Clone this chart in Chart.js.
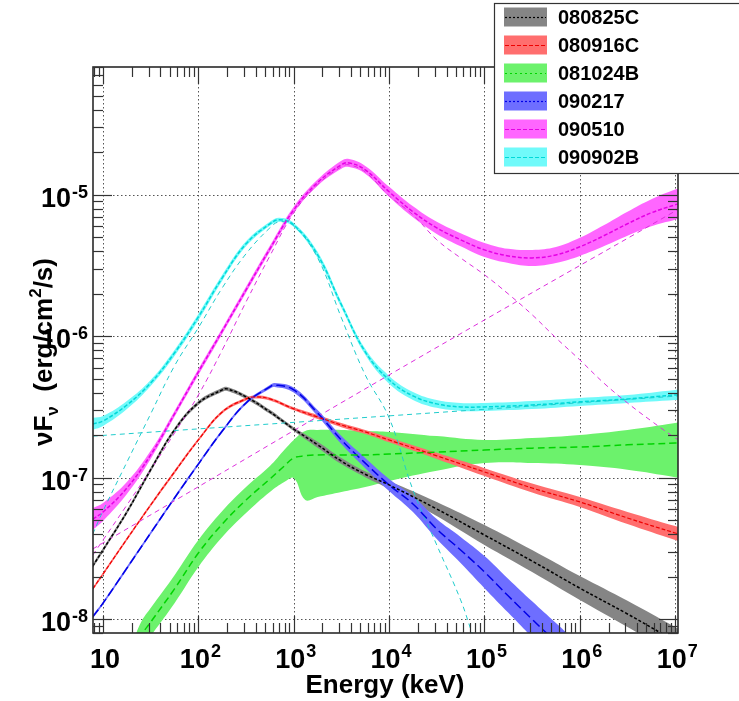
<!DOCTYPE html>
<html>
<head>
<meta charset="utf-8">
<title>GRB spectra</title>
<script src="https://cdn.jsdelivr.net/npm/chart.js@4.4.1/dist/chart.umd.min.js"></script>
<style>
html,body{margin:0;padding:0;background:#ffffff;overflow:hidden;}
canvas{display:block;}
</style>
</head>
<body>
<canvas id="chart" width="739" height="701"></canvas>
<script>
// ---------------- labels ----------------
const GRB_NAMES = ['080825C', '080916C', '081024B', '090217', '090510', '090902B'];
const X_TICK_EXPONENTS = [1, 2, 3, 4, 5, 6, 7];
const Y_TICK_EXPONENTS = [-8, -7, -6, -5];
const X_TITLE = 'Energy (keV)';
const X_MIN = 7.85, X_MAX = 1.07e7, Y_MIN = 8.0e-9, Y_MAX = 8.0e-5;

// ---------------- 080825C (black) ----------------
const E_080825C = [7.8, 10, 17.8, 31.6, 56.2, 100, 178, 200, 316, 562, 1000, 1780, 3160, 5620, 1e4, 3.16e4, 1e5, 3.16e5, 1e6, 3.16e6, 1e7, 1.1e7];
const F_080825C = [2.38e-8, 3.09e-8, 5.73e-8, 1.14e-7, 2.18e-7, 3.38e-7, 4.18e-7, 4.25e-7, 3.73e-7, 2.92e-7, 2.21e-7, 1.71e-7, 1.31e-7, 1.06e-7, 8.90e-8, 6.02e-8, 3.94e-8, 2.58e-8, 1.66e-8, 1.09e-8, 7.01e-9, 6.79e-9];
const HI_080825C = [2.46e-8, 3.19e-8, 5.92e-8, 1.18e-7, 2.25e-7, 3.49e-7, 4.32e-7, 4.39e-7, 3.85e-7, 3.02e-7, 2.28e-7, 1.80e-7, 1.38e-7, 1.11e-7, 9.50e-8, 6.75e-8, 4.64e-8, 3.09e-8, 2.02e-8, 1.35e-8, 8.80e-9, 8.53e-9];
const LO_080825C = [2.30e-8, 2.99e-8, 5.55e-8, 1.10e-7, 2.11e-7, 3.27e-7, 4.05e-7, 4.11e-7, 3.61e-7, 2.83e-7, 2.14e-7, 1.63e-7, 1.25e-7, 1.01e-7, 8.34e-8, 5.37e-8, 3.35e-8, 2.16e-8, 1.37e-8, 8.82e-9, 5.58e-9, 5.41e-9];

// ---------------- 080916C (red) ----------------
const E_080916C = [7.8, 10, 17.8, 31.6, 56.2, 100, 178, 316, 400, 562, 1000, 1780, 3160, 5620, 1e4, 3.16e4, 1e5, 3.16e5, 1e6, 3.16e6, 1e7, 1.1e7];
const F_080916C = [1.64e-8, 2.09e-8, 3.69e-8, 6.42e-8, 1.10e-7, 1.85e-7, 2.92e-7, 3.61e-7, 3.73e-7, 3.61e-7, 3.07e-7, 2.69e-7, 2.36e-7, 2.11e-7, 1.85e-7, 1.43e-7, 1.10e-7, 8.47e-8, 6.75e-8, 5.20e-8, 4.07e-8, 4.00e-8];
const HI_080916C = [1.68e-8, 2.14e-8, 3.78e-8, 6.58e-8, 1.13e-7, 1.90e-7, 2.99e-7, 3.70e-7, 3.82e-7, 3.70e-7, 3.15e-7, 2.78e-7, 2.44e-7, 2.18e-7, 1.93e-7, 1.50e-7, 1.17e-7, 9.11e-8, 7.32e-8, 5.74e-8, 4.56e-8, 4.48e-8];
const LO_080916C = [1.60e-8, 2.04e-8, 3.60e-8, 6.27e-8, 1.07e-7, 1.81e-7, 2.85e-7, 3.52e-7, 3.64e-7, 3.52e-7, 3.00e-7, 2.60e-7, 2.28e-7, 2.04e-7, 1.78e-7, 1.36e-7, 1.03e-7, 7.87e-8, 6.22e-8, 4.71e-8, 3.63e-8, 3.57e-8];

// ---------------- 081024B (green) ----------------
const E_081024B = [20, 25.1, 31.6, 56.2, 100, 178, 316, 562, 794, 1000, 1320, 1780, 3160, 5620, 1e4, 3.16e4, 1e5, 3.16e5, 1e6, 3.16e6, 1e7, 1.1e7];
const F_081024B = [5.15e-9, 7.61e-9, 9.55e-9, 1.64e-8, 2.94e-8, 4.71e-8, 6.97e-8, 9.80e-8, 1.21e-7, 1.38e-7, 1.43e-7, 1.45e-7, 1.45e-7, 1.45e-7, 1.47e-7, 1.52e-7, 1.57e-7, 1.62e-7, 1.65e-7, 1.71e-7, 1.76e-7, 1.76e-7];
const HI_081024B = [6.57e-9, 9.55e-9, 1.20e-8, 2.05e-8, 3.63e-8, 5.83e-8, 8.61e-8, 1.21e-7, 1.57e-7, 1.85e-7, 2.14e-7, 2.18e-7, 2.18e-7, 2.14e-7, 2.11e-7, 1.97e-7, 1.85e-7, 1.91e-7, 2.01e-7, 2.18e-7, 2.44e-7, 2.48e-7];
const LO_081024B = [4.03e-9, 6.06e-9, 7.61e-9, 1.30e-8, 2.34e-8, 3.81e-8, 5.64e-8, 7.94e-8, 9.34e-8, 9.97e-8, 6.97e-8, 7.31e-8, 7.94e-8, 8.61e-8, 9.49e-8, 1.12e-7, 1.27e-7, 1.27e-7, 1.23e-7, 1.14e-7, 1.01e-7, 9.97e-8];

// ---------------- 090217 (blue) ----------------
const E_090217 = [7.8, 10, 17.8, 31.6, 56.2, 100, 178, 316, 562, 631, 1000, 1780, 3160, 5620, 1e4, 1.78e4, 3.16e4, 5.62e4, 1e5, 1.78e5, 3.16e5, 5.62e5, 1e6];
const F_090217 = [1.04e-8, 1.30e-8, 2.30e-8, 4.07e-8, 7.20e-8, 1.25e-7, 2.14e-7, 3.38e-7, 4.39e-7, 4.53e-7, 4.18e-7, 2.87e-7, 1.85e-7, 1.27e-7, 8.90e-8, 6.53e-8, 4.34e-8, 3.09e-8, 2.16e-8, 1.46e-8, 1.00e-8, 6.90e-9, 4.74e-9];
const HI_090217 = [1.07e-8, 1.33e-8, 2.36e-8, 4.17e-8, 7.38e-8, 1.28e-7, 2.19e-7, 3.46e-7, 4.53e-7, 4.68e-7, 4.35e-7, 3.01e-7, 1.97e-7, 1.38e-7, 9.82e-8, 7.44e-8, 5.11e-8, 3.82e-8, 2.80e-8, 1.93e-8, 1.34e-8, 9.40e-9, 6.56e-9];
const LO_090217 = [1.01e-8, 1.27e-8, 2.24e-8, 3.97e-8, 7.03e-8, 1.22e-7, 2.09e-7, 3.30e-7, 4.25e-7, 4.39e-7, 4.01e-7, 2.73e-7, 1.73e-7, 1.17e-7, 8.07e-8, 5.73e-8, 3.69e-8, 2.50e-8, 1.66e-8, 1.11e-8, 7.46e-9, 5.06e-9, 3.42e-9];

// ---------------- 090510 (magenta) ----------------
const E_090510 = [7.8, 10, 17.8, 31.6, 56.2, 100, 178, 316, 562, 1000, 1780, 3160, 3800, 5620, 1e4, 1.78e4, 3.16e4, 5.62e4, 1e5, 1.78e5, 3.16e5, 5.62e5, 1e6, 1.78e6, 3.16e6, 5.62e6, 1e7, 1.1e7];
const F_090510 = [5.11e-8, 5.73e-8, 8.47e-8, 1.45e-7, 2.83e-7, 5.60e-7, 1.09e-6, 2.13e-6, 4.15e-6, 7.83e-6, 1.22e-5, 1.63e-5, 1.68e-5, 1.50e-5, 1.05e-5, 7.58e-6, 5.84e-6, 4.81e-6, 4.08e-6, 3.70e-6, 3.58e-6, 3.76e-6, 4.29e-6, 5.13e-6, 6.24e-6, 7.46e-6, 8.50e-6, 8.64e-6];
const HI_090510 = [6.11e-8, 6.64e-8, 9.34e-8, 1.55e-7, 2.97e-7, 5.88e-7, 1.14e-6, 2.24e-6, 4.36e-6, 8.22e-6, 1.28e-5, 1.74e-5, 1.79e-5, 1.60e-5, 1.14e-5, 8.29e-6, 6.44e-6, 5.35e-6, 4.57e-6, 4.15e-6, 4.08e-6, 4.28e-6, 4.97e-6, 6.09e-6, 7.59e-6, 9.30e-6, 1.09e-5, 1.10e-5];
const LO_090510 = [4.27e-8, 4.95e-8, 7.68e-8, 1.36e-7, 2.70e-7, 5.33e-7, 1.04e-6, 2.03e-6, 3.95e-6, 7.46e-6, 1.16e-5, 1.53e-5, 1.57e-5, 1.41e-5, 9.68e-6, 6.93e-6, 5.29e-6, 4.33e-6, 3.64e-6, 3.30e-6, 3.14e-6, 3.30e-6, 3.70e-6, 4.32e-6, 5.13e-6, 5.99e-6, 6.66e-6, 6.77e-6];
// 090510 components: Band function and power law
const E_090510_BAND = [7.8, 10, 17.8, 31.6, 56.2, 100, 178, 316, 562, 1000, 1780, 3160, 3800, 5620, 1e4, 1.78e4, 3.16e4, 5.62e4, 1e5, 1.78e5, 3.16e5, 5.62e5, 1e6, 1.78e6, 3.16e6, 5.62e6, 1e7, 1.1e7];
const F_090510_BAND = [2.84e-8, 3.63e-8, 6.42e-8, 1.14e-7, 2.07e-7, 3.85e-7, 8.01e-7, 1.75e-6, 3.70e-6, 7.46e-6, 1.18e-5, 1.58e-5, 1.63e-5, 1.45e-5, 9.84e-6, 7.22e-6, 4.81e-6, 3.58e-6, 2.72e-6, 1.99e-6, 1.42e-6, 9.74e-7, 6.81e-7, 4.68e-7, 3.38e-7, 2.52e-7, 1.91e-7, 1.85e-7];
const E_090510_PL = [7.8, 1e4, 1.1e7];
const F_090510_PL = [3.14e-8, 5.33e-7, 7.96e-6];

// ---------------- 090902B (cyan) ----------------
const E_090902B = [7.8, 10, 17.8, 31.6, 56.2, 100, 178, 316, 562, 708, 1000, 1780, 3160, 5620, 1e4, 1.78e4, 3.16e4, 5.62e4, 1e5, 3.16e5, 1e6, 3.16e6, 1e7, 1.1e7];
const F_090902B = [2.40e-7, 2.52e-7, 3.27e-7, 4.68e-7, 7.63e-7, 1.37e-6, 2.59e-6, 4.50e-6, 6.24e-6, 6.66e-6, 6.13e-6, 3.76e-6, 1.67e-6, 7.76e-7, 4.92e-7, 3.79e-7, 3.33e-7, 3.17e-7, 3.17e-7, 3.27e-7, 3.44e-7, 3.61e-7, 3.85e-7, 3.85e-7];
const HI_090902B = [2.65e-7, 2.73e-7, 3.49e-7, 4.91e-7, 8.01e-7, 1.44e-6, 2.72e-6, 4.69e-6, 6.45e-6, 6.88e-6, 6.33e-6, 3.95e-6, 1.75e-6, 8.15e-7, 5.25e-7, 4.04e-7, 3.55e-7, 3.38e-7, 3.38e-7, 3.49e-7, 3.67e-7, 3.85e-7, 4.18e-7, 4.18e-7];
const LO_090902B = [2.18e-7, 2.32e-7, 3.06e-7, 4.46e-7, 7.27e-7, 1.30e-6, 2.47e-6, 4.32e-6, 6.04e-6, 6.45e-6, 5.93e-6, 3.58e-6, 1.59e-6, 7.39e-7, 4.61e-7, 3.55e-7, 3.12e-7, 2.97e-7, 2.97e-7, 3.06e-7, 3.22e-7, 3.38e-7, 3.55e-7, 3.55e-7];
// 090902B components: Band function and power law
const E_090902B_BAND = [7.8, 10, 17.8, 31.6, 56.2, 100, 178, 316, 562, 708, 1000, 1780, 3160, 5620, 1e4, 1.78e4, 3.16e4, 5.62e4, 7.4e4, 1e5];
const F_090902B_BAND = [4.00e-8, 5.83e-8, 1.29e-7, 2.83e-7, 6.18e-7, 1.15e-6, 2.20e-6, 3.83e-6, 5.84e-6, 6.44e-6, 6.04e-6, 3.58e-6, 1.35e-6, 5.33e-7, 2.65e-7, 8.20e-8, 3.35e-8, 1.37e-8, 7.99e-9, 4.44e-9];
const E_090902B_PL = [7.8, 1e4, 1.1e7];
const F_090902B_PL = [1.97e-7, 2.74e-7, 3.79e-7];

// ---------------- styles ----------------
const FONT = '"Liberation Sans", Arial, Helvetica, sans-serif';
const TENSION = 0.4;
const SERIES = [
  { name: GRB_NAMES[0], E: E_080825C, F: F_080825C, HI: HI_080825C, LO: LO_080825C, line: '#000000', band: '#858585', dash: [3, 2], order: 19, lw: 1.5 },
  { name: GRB_NAMES[1], E: E_080916C, F: F_080916C, HI: HI_080916C, LO: LO_080916C, line: '#ee0000', band: '#ff6e6e', dash: [4, 2], order: 18, lw: 1.2 },
  { name: GRB_NAMES[2], E: E_081024B, F: F_081024B, HI: HI_081024B, LO: LO_081024B, line: '#00d400', band: '#6cf26c', dash: [7, 4], order: 20, lw: 1.5 },
  { name: GRB_NAMES[3], E: E_090217, F: F_090217, HI: HI_090217, LO: LO_090217, line: '#0000e6', band: '#6e6eff', dash: [9, 4], order: 17, lw: 1.5 },
  { name: GRB_NAMES[4], E: E_090510, F: F_090510, HI: HI_090510, LO: LO_090510, line: '#e600e6', band: '#ff66ff', dash: [4, 2], order: 16, lw: 1.5 },
  { name: GRB_NAMES[5], E: E_090902B, F: F_090902B, HI: HI_090902B, LO: LO_090902B, line: '#00d8d8', band: '#70fafa', dash: [4, 2], order: 15, lw: 1.5 }
];
const LEGEND_DASH = [[2, 2], [4, 2], [2, 3], [2, 2], [4, 2], [4, 2]];

function xy(E, F) { return E.map((e, i) => ({ x: e, y: F[i] })); }

const datasets = [];
SERIES.forEach(s => {
  const iLo = datasets.length;
  datasets.push({ label: s.name + ' lo', data: xy(s.E, s.LO), borderWidth: 0, borderColor: 'rgba(0,0,0,0)', pointRadius: 0, fill: false, order: s.order, tension: TENSION });
  datasets.push({ label: s.name + ' hi', data: xy(s.E, s.HI), borderWidth: 0, borderColor: 'rgba(0,0,0,0)', backgroundColor: s.band, pointRadius: 0, fill: { target: iLo }, order: s.order, tension: TENSION });
});
// components
[[E_090510_BAND, F_090510_BAND, '#dd30dd'], [E_090510_PL, F_090510_PL, '#dd30dd'],
 [E_090902B_BAND, F_090902B_BAND, '#20cccc'], [E_090902B_PL, F_090902B_PL, '#20cccc']].forEach(c => {
  datasets.push({ label: 'component', data: xy(c[0], c[1]), borderColor: c[2], borderWidth: 1, borderDash: [5, 4], pointRadius: 0, fill: false, order: 5, tension: TENSION });
});
// main fit lines
SERIES.forEach(s => {
  datasets.push({ label: s.name, data: xy(s.E, s.F), borderColor: s.line, borderWidth: s.lw, borderDash: s.dash, pointRadius: 0, fill: false, order: 1, tension: TENSION });
});

function lineP(ctx, x1, y1, x2, y2) { ctx.beginPath(); ctx.moveTo(x1, y1); ctx.lineTo(x2, y2); ctx.stroke(); }

const rootStyle = {
  id: 'rootStyle',
  beforeDatasetsDraw(chart) {
    const { ctx, chartArea: a, scales: { x, y } } = chart;
    ctx.save();
    ctx.strokeStyle = '#555555'; ctx.lineWidth = 1; ctx.setLineDash([1.5, 2.5]);
    X_TICK_EXPONENTS.forEach(e => { const px = Math.round(x.getPixelForValue(Math.pow(10, e))) + 0.5; lineP(ctx, px, a.top, px, a.bottom); });
    Y_TICK_EXPONENTS.forEach(e => { const py = Math.round(y.getPixelForValue(Math.pow(10, e))) + 0.5; lineP(ctx, a.left, py, a.right, py); });
    ctx.restore();
  },
  afterDatasetsDraw(chart) {
    const { ctx, chartArea: a, scales: { x, y } } = chart;
    ctx.save();
    // frame
    ctx.strokeStyle = '#2a2a2a'; ctx.lineWidth = 1.6; ctx.setLineDash([]);
    ctx.strokeRect(a.left, a.top, a.right - a.left, a.bottom - a.top);
    // ticks
    ctx.lineWidth = 1.2; ctx.strokeStyle = '#333333';
    for (let e = 0; e <= 7; e++) for (let m = 1; m <= 9; m++) {
      const v = m * Math.pow(10, e); if (v < X_MIN || v > X_MAX) continue;
      const px = Math.round(x.getPixelForValue(v)) + 0.5; const len = m === 1 ? 17 : 10;
      lineP(ctx, px, a.bottom, px, a.bottom - len); lineP(ctx, px, a.top, px, a.top + len);
    }
    for (let e = -9; e <= -4; e++) for (let m = 1; m <= 9; m++) {
      const v = m * Math.pow(10, e); if (v < Y_MIN || v > Y_MAX) continue;
      const py = Math.round(y.getPixelForValue(v)) + 0.5; const len = m === 1 ? 19 : 10;
      lineP(ctx, a.left, py, a.left + len, py); lineP(ctx, a.right, py, a.right - len, py);
    }
    // tick labels
    ctx.fillStyle = '#000000'; ctx.textBaseline = 'alphabetic';
    const fb = 'bold 27px ' + FONT, fe = 'bold 18px ' + FONT;
    X_TICK_EXPONENTS.forEach(e => {
      const px = x.getPixelForValue(Math.pow(10, e));
      ctx.font = fb; const wb = ctx.measureText('10').width;
      const es = e === 1 ? '' : String(e);
      ctx.font = fe; const we = es ? ctx.measureText(es).width + 1 : 0;
      const x0 = px + 2 - (wb + we) / 2;
      ctx.textAlign = 'left'; ctx.font = fb; ctx.fillText('10', x0, 668);
      if (es) { ctx.font = fe; ctx.fillText(es, x0 + wb + 1, 657); }
    });
    Y_TICK_EXPONENTS.forEach(e => {
      const py = y.getPixelForValue(Math.pow(10, e));
      const es = String(e);
      ctx.font = fe; const we = ctx.measureText(es).width;
      ctx.textAlign = 'left';
      const xr = 88;
      ctx.fillText(es, xr - we, py + 3);
      ctx.font = fb; const wb = ctx.measureText('10').width;
      ctx.fillText('10', xr - we - 1 - wb, py + 12);
    });
    // x title
    ctx.font = 'bold 26px ' + FONT; ctx.textAlign = 'center';
    ctx.fillText(X_TITLE, 385, 693);
    // y title
    ctx.save();
    ctx.translate(52, 352); ctx.rotate(-Math.PI / 2);
    const parts = [
      { t: '\u03BD', f: 'bold 26px ', dy: 0 },
      { t: 'F', f: 'bold 26px ', dy: 0 },
      { t: '\u03BD', f: 'bold 17px ', dy: 6 },
      { t: '  (erg/cm', f: 'bold 26px ', dy: 0 },
      { t: '2', f: 'bold 17px ', dy: -11 },
      { t: '/s)', f: 'bold 26px ', dy: 0 }
    ];
    let tot = 0; parts.forEach(p => { ctx.font = p.f + FONT; p.w = ctx.measureText(p.t).width; tot += p.w; });
    let cx = -tot / 2; ctx.textAlign = 'left';
    parts.forEach(p => { ctx.font = p.f + FONT; ctx.fillText(p.t, cx, p.dy); cx += p.w; });
    ctx.restore();
    // legend
    ctx.fillStyle = '#ffffff'; ctx.fillRect(494, 3, 260, 170);
    ctx.strokeStyle = '#333333'; ctx.lineWidth = 1.2; ctx.strokeRect(494.5, 3.5, 260, 170);
    const rows = [17, 45, 73, 101, 129, 157];
    SERIES.forEach((s, i) => {
      const cy = rows[i];
      ctx.fillStyle = s.band; ctx.fillRect(504, cy - 9.5, 43, 19);
      ctx.strokeStyle = s.line; ctx.lineWidth = 1.2; ctx.setLineDash(LEGEND_DASH[i]);
      lineP(ctx, 505, cy + 0.5, 546, cy + 0.5); ctx.setLineDash([]);
      ctx.fillStyle = '#000000'; ctx.font = 'bold 20px ' + FONT; ctx.textAlign = 'left'; ctx.textBaseline = 'middle';
      ctx.fillText(s.name, 558, cy + 1);
    });
    ctx.restore();
  }
};

new Chart(document.getElementById('chart'), {
  type: 'line',
  data: { datasets },
  options: {
    responsive: false, animation: false, devicePixelRatio: 1,
    layout: { padding: { left: 93, right: 61, top: 67, bottom: 68 } },
    scales: {
      x: { type: 'logarithmic', min: X_MIN, max: X_MAX, display: false },
      y: { type: 'logarithmic', min: Y_MIN, max: Y_MAX, display: false }
    },
    plugins: { legend: { display: false }, tooltip: { enabled: false }, filler: { propagate: false } },
    elements: { line: { capBezierPoints: true } }
  },
  plugins: [rootStyle]
});
</script>
</body>
</html>
